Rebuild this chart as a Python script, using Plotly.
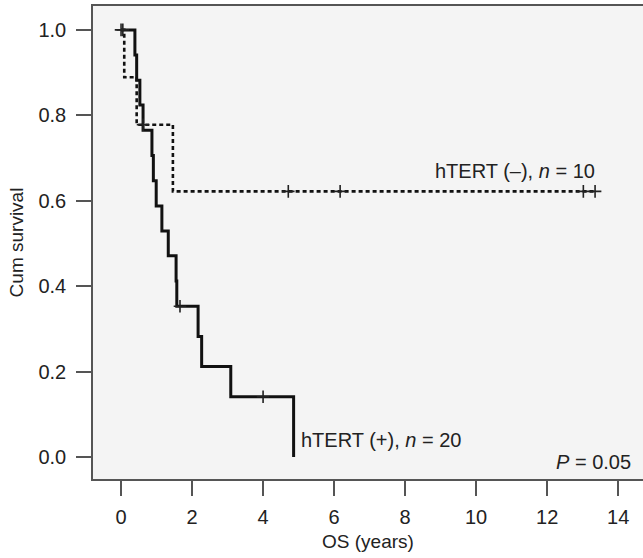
import plotly.graph_objects as go

# hTERT (+) group, n = 20 : step times (years) and survival after each step
pos_times = [0.0, 0.39, 0.44, 0.53, 0.62, 0.87, 0.91, 0.99, 1.15, 1.33, 1.55, 1.57, 2.17, 2.27, 3.09, 4.86]
pos_surv = [1.0, 0.941, 0.882, 0.824, 0.765, 0.706, 0.647, 0.588, 0.529, 0.471, 0.412, 0.353, 0.282, 0.212, 0.141, 0.0]
pos_cens_t = [0.0, 1.66, 4.0]
pos_cens_s = [1.0, 0.353, 0.141]

# hTERT (-) group, n = 10
neg_times = [0.0, 0.09, 0.44, 1.46, 13.35]
neg_surv = [1.0, 0.889, 0.778, 0.622, 0.622]
neg_cens_t = [0.05, 0.62, 4.71, 6.17, 13.02, 13.35]
neg_cens_s = [1.0, 0.778, 0.622, 0.622, 0.622, 0.622]

x_ticks = [0, 2, 4, 6, 8, 10, 12, 14]
y_ticks = [0.0, 0.2, 0.4, 0.6, 0.8, 1.0]
y_tick_labels = ["0.0", "0.2", "0.4", "0.6", "0.8", "1.0"]

FONT = "Liberation Sans, Arial, sans-serif"

fig = go.Figure()
fig.add_trace(go.Scatter(x=neg_times, y=neg_surv, mode="lines", line_shape="hv",
                         line=dict(color="#111", width=2.6, dash="4px,3px"), showlegend=False))
fig.add_trace(go.Scatter(x=pos_times, y=pos_surv, mode="lines", line_shape="hv",
                         line=dict(color="#111", width=3), showlegend=False))
fig.add_trace(go.Scatter(x=neg_cens_t, y=neg_cens_s, mode="markers",
                         marker=dict(symbol="cross-thin", size=9, line=dict(width=1.6, color="#222")),
                         showlegend=False))
fig.add_trace(go.Scatter(x=pos_cens_t, y=pos_cens_s, mode="markers",
                         marker=dict(symbol="cross-thin", size=9, line=dict(width=1.6, color="#222")),
                         showlegend=False))

fig.add_annotation(x=13.41, y=0.622, xref="x", yref="y", text="hTERT (–), <i>n</i> = 10",
                   showarrow=False, xanchor="right", yanchor="middle", yshift=20,
                   font=dict(family=FONT, size=20, color="#222"))
fig.add_annotation(x=4.86, y=0.0, xref="x", yref="y", text="hTERT (+), <i>n</i> = 20",
                   showarrow=False, xanchor="left", yanchor="middle", xshift=5, yshift=17,
                   font=dict(family=FONT, size=20, color="#222"))
fig.add_annotation(x=14.42, y=-0.0117, xref="x", yref="y", text="<i>P</i> = 0.05",
                   showarrow=False, xanchor="right", yanchor="middle",
                   font=dict(family=FONT, size=20, color="#222"))

fig.update_layout(
    width=643, height=558,
    margin=dict(l=93, r=0, t=6, b=79),
    paper_bgcolor="white", plot_bgcolor="#f4f4f4",
    font=dict(family=FONT, size=20, color="#222"),
)
fig.update_xaxes(range=[-0.79, 14.70], tickvals=x_ticks, ticks="outside", ticklen=15,
                 tickwidth=1.5, tickcolor="#555", showline=True, linecolor="#555", linewidth=2,
                 mirror=True, showgrid=False, zeroline=False, ticklabelstandoff=4,
                 tickfont=dict(size=20),
                 title=dict(text="OS (years)", font=dict(size=19), standoff=8))
fig.update_yaxes(range=[-0.0515, 1.056], tickvals=y_ticks, ticktext=y_tick_labels,
                 ticks="outside", ticklen=15, tickwidth=1.5, tickcolor="#555",
                 showline=True, linecolor="#555", linewidth=1.5, showgrid=False, zeroline=False,
                 ticklabelstandoff=6, tickfont=dict(size=20),
                 title=dict(text="Cum survival", font=dict(size=19), standoff=10))

fig.write_html("out.html", config={"displayModeBar": False},
               post_script="document.body.style.margin='0';")
